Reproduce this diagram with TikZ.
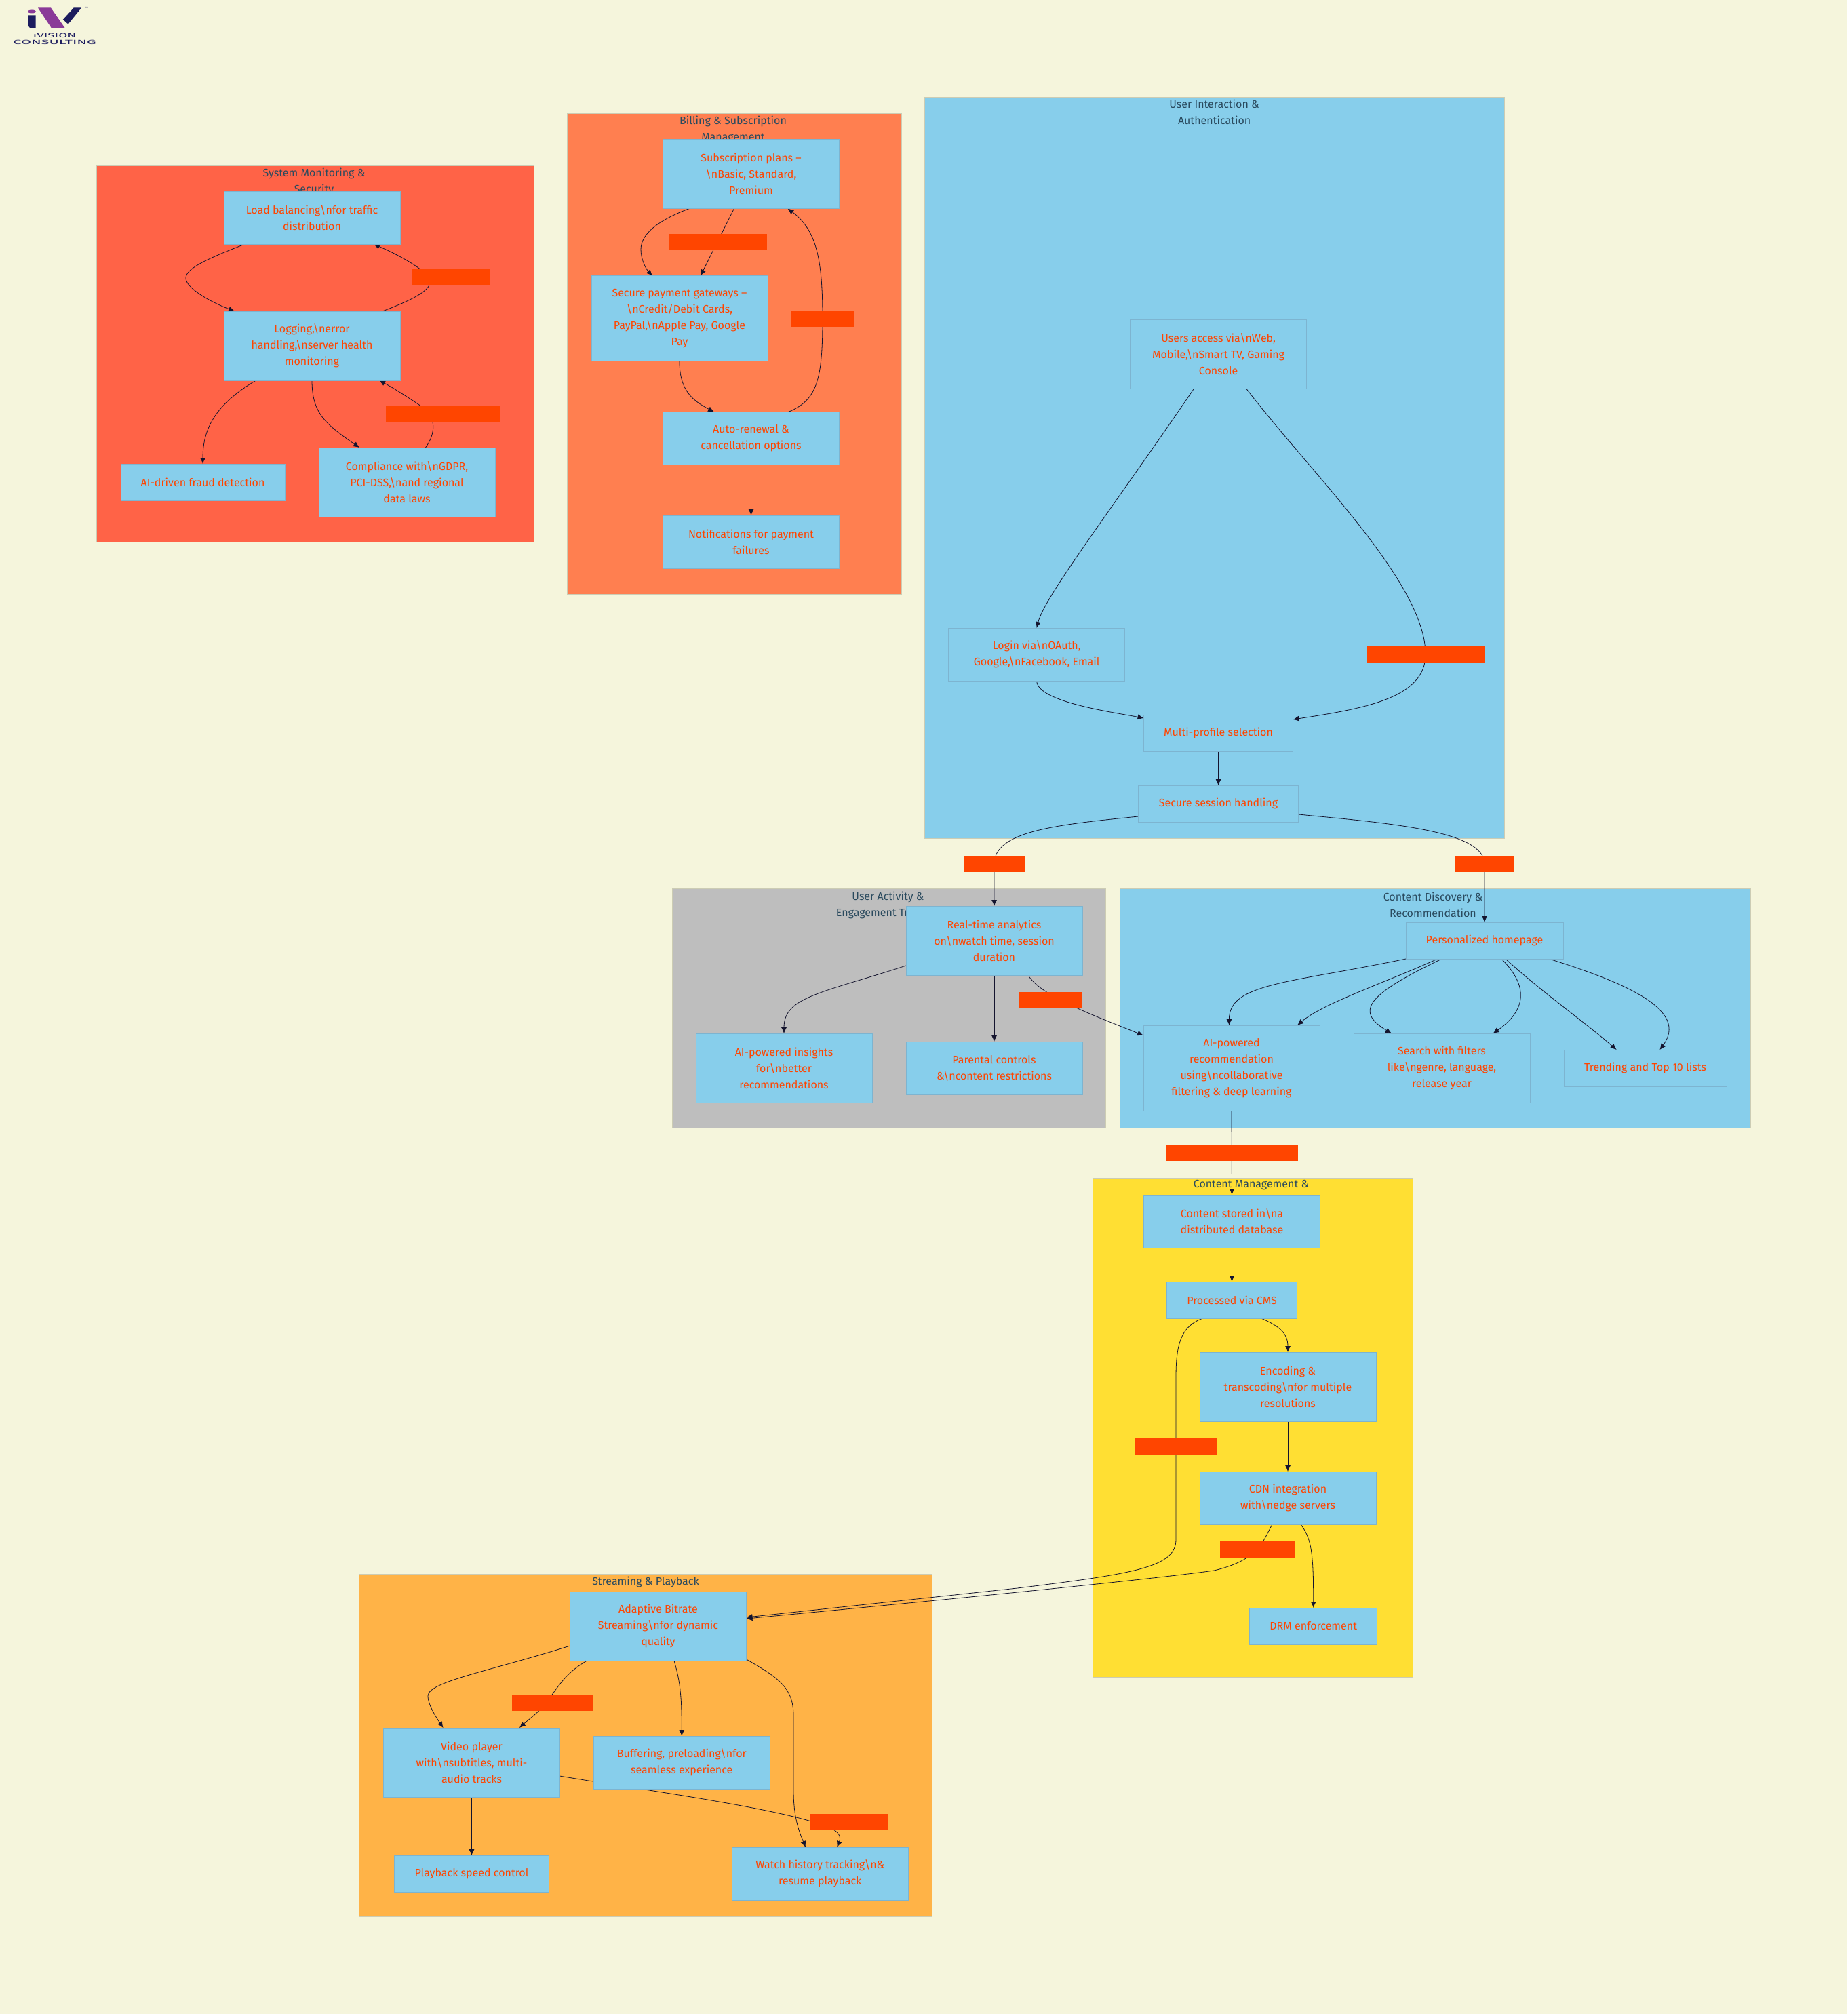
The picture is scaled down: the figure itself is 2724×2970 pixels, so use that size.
\documentclass[tikz,border=0pt]{standalone}
\usepackage{fontspec}
\setmainfont{Fira Sans}
\usetikzlibrary{arrows.meta,backgrounds}
\definecolor{paper}{HTML}{F5F5DC}
\definecolor{sky}{HTML}{87CEEB}
\definecolor{hot}{HTML}{FF4500}
\definecolor{skyline}{HTML}{7DB4D0}
\definecolor{rim}{HTML}{CCCCB4}
\definecolor{ink}{HTML}{2A4A5E}
\definecolor{wire}{HTML}{14142E}
\definecolor{logopurple}{HTML}{8A3A98}
\definecolor{logonavy}{HTML}{1C1C5E}
\newcommand{\nlit}{\textbackslash n}

\begin{document}
\begin{tikzpicture}[x=1pt,y=-1pt,font=\fontsize{16}{24}\selectfont,>={Latex[length=9pt,width=8pt]},
  box/.style={draw=skyline,line width=1pt,fill=sky,text=hot,align=center,inner sep=0pt,outer sep=0pt,minimum width=260,minimum height=78},
  tag/.style={fill=hot,inner sep=0pt,outer sep=0pt,minimum height=24},
  zone/.style={draw=rim,line width=1pt,inner sep=0pt,outer sep=0pt},
  ztitle/.style={text=ink,align=center,inner sep=0pt},
  flow/.style={->,draw=wire,line width=0.8pt}]
  % system monitoring
  \node[box] (load) at (460,321) {Load balancing\nlit{}for traffic\\distribution};
  \node[box,minimum height=102] (logging) at (460,510) {Logging,\nlit{}error\\handling,\nlit{}server health\\monitoring};
  \node[box,minimum width=242,minimum height=54] (fraud) at (299,711) {AI-driven fraud detection};
  \node[box,minimum height=102] (compliance) at (600,711) {Compliance with\nlit{}GDPR,\\PCI-DSS,\nlit{}and regional\\data laws};
  % billing
  \node[box,minimum height=102] (plans) at (1107.5,256.5) {Subscription plans --\\\nlit{}Basic, Standard,\\Premium};
  \node[box,minimum height=126] (gateway) at (1002,469.6) {Secure payment gateways --\\\nlit{}Credit/Debit Cards,\\PayPal,\nlit{}Apple Pay, Google\\Pay};
  \node[box] (renew) at (1107.5,646.5) {Auto-renewal \&\\cancellation options};
  \node[box] (notify) at (1107.5,799) {Notifications for payment\\failures};
  % user interaction
  \node[box,minimum height=102] (users) at (1796.6,522) {Users access via\nlit{}Web,\\Mobile,\nlit{}Smart TV, Gaming\\Console};
  \node[box] (login) at (1528.7,965) {Login via\nlit{}OAuth,\\Google,\nlit{}Facebook, Email};
  \node[box,minimum width=220,minimum height=54] (profile) at (1796.5,1081) {Multi-profile selection};
  \node[box,minimum width=236,minimum height=54] (session) at (1796.5,1185) {Secure session handling};
  % activity
  \node[box,minimum height=102] (realtime) at (1466,1387) {Real-time analytics\\on\nlit{}watch time, session\\duration};
  \node[box,minimum height=102] (insights) at (1156,1575) {AI-powered insights\\for\nlit{}better\\recommendations};
  \node[box] (parental) at (1466,1575) {Parental controls\\\&\nlit{}content restrictions};
  % discovery
  \node[box,minimum width=232,minimum height=54] (home) at (2189,1387) {Personalized homepage};
  \node[box,minimum height=126] (airec) at (1816,1575) {AI-powered\\recommendation\\using\nlit{}collaborative\\filtering \& deep learning};
  \node[box,minimum height=102] (search) at (2126,1575) {Search with filters\\like\nlit{}genre, language,\\release year};
  \node[box,minimum width=240,minimum height=54] (trending) at (2426,1575) {Trending and Top 10 lists};
  % content management
  \node[box] (stored) at (1816.5,1801) {Content stored in\nlit{}a\\distributed database};
  \node[box,minimum width=192,minimum height=54] (cms) at (1816.5,1917) {Processed via CMS};
  \node[box,minimum height=102] (encoding) at (1899,2045) {Encoding \&\\transcoding\nlit{}for multiple\\resolutions};
  \node[box] (cdn) at (1899,2209) {CDN integration\\with\nlit{}edge servers};
  \node[box,minimum width=188,minimum height=54] (drm) at (1936.7,2398) {DRM enforcement};
  % streaming
  \node[box,minimum height=102] (adaptive) at (970.5,2398) {Adaptive Bitrate\\Streaming\nlit{}for dynamic\\quality};
  \node[box,minimum height=102] (video) at (695.5,2599) {Video player\\with\nlit{}subtitles, multi-\\audio tracks};
  \node[box] (buffering) at (1005.3,2599) {Buffering, preloading\nlit{}for\\seamless experience};
  \node[box,minimum width=228,minimum height=54] (playback) at (695.5,2763) {Playback speed control};
  \node[box] (watch) at (1209.3,2763) {Watch history tracking\nlit{}\&\\resume playback};
  % edge label plates
  \foreach \x/\y/\w/\n in {665.3/409.3/116/tagload,653/610.5/168/tagcomp,1058.5/357/144/tagplans,1213/470/92/tagrenew,
    2102/965/174/taguser,1466/1274/90/tagreal,2189/1274/88/taghome,1549/1475/94/tagrec,1816/1700/195/tagstore,
    1734/2133/120/tagcms,1854.4/2285/110/tagcdn,815/2511/120/tagvideo,1252.6/2687/115/tagwatch}{
    \node[tag,minimum width=\w] (\n) at (\x,\y) {};
  }
  % logo
  \fill[logopurple] (47,17) ellipse (6 and 2.5);
  \fill[logonavy] (41.3,22.5) -- (52.5,22.5) -- (52.5,40.8) -- (44,40.8) -- (41.3,38) -- cycle;
  \fill[logopurple] (56,11.5) -- (75,11.5) -- (95.4,40.8) -- (75.5,40.8) -- cycle;
  \fill[logonavy] (108.7,11.5) -- (120,11.5) -- (100.5,35.6) -- (92.9,28.8) -- cycle;
  \node[text=logonavy,inner sep=0pt,font=\fontsize{3}{3}\selectfont] (logotm) at (128,11.5) {TM};
  \node[text=logonavy,inner sep=0pt,font=\fontsize{9}{9}\selectfont] (logoa) at (80.6,52.3) {\scalebox{2.1}[1]{iVISION}};
  \node[text=logonavy,inner sep=0pt,font=\fontsize{9}{9}\selectfont] (logob) at (80.6,62.8) {\scalebox{2.4}[1]{CONSULTING}};

  \begin{scope}[on background layer]
    \fill[paper] (0,0) rectangle (2724,2970);
    \foreach \x/\y/\w/\h/\c/\n in {464.7/521.6/644.6/554.8/FF6347/zonesys,1083/521.8/492.3/708.4/FF7F50/zonebill,
      1790.9/689.9/855/1093.7/87CEEB/zoneuser,1311/1487/639/352.6/BEBEBE/zoneact,2116.3/1487/929.5/352.6/87CEEB/zonefind,
      1847.5/2105.4/472.4/736.7/FFDF33/zonecms,952.2/2574.2/844.7/505.2/FFB347/zoneplay}{
      \definecolor{zonefill}{HTML}{\c}
      \node[zone,fill=zonefill,minimum width=\w,minimum height=\h] (\n) at (\x,\y) {};
    }
    \node[ztitle] (tsys) at (463,268) {System Monitoring \&\\Security};
    \node[ztitle] (tbill) at (1081,191) {Billing \& Subscription\\Management};
    \node[ztitle] (tuser) at (1790.6,165.5) {User Interaction \&\\Authentication};
    \node[ztitle] (tact) at (1309.5,1334.5) {User Activity \&\\Engagement Tracking};
    \node[ztitle] (tfind) at (2113,1334.5) {Content Discovery \&\\Recommendation};
    \node[ztitle] (tcms) at (1845,1748) {Content Management \&};
    \node[ztitle] (tplay) at (952,2332.7) {Streaming \& Playback};

    % system monitoring
    \draw[flow] ([xshift=-99]load.south) .. controls (310,380) and (274,395) .. (274,410) .. controls (274,425) and (310,445) .. ([xshift=-114]logging.north);
    \draw[flow] ([xshift=104]logging.north) .. controls (600,445) and (645,427) .. (632,409) .. controls (622,395) and (590,377) .. ([xshift=91]load.south);
    \draw[flow] ([xshift=-82.5]logging.south) .. controls (320,595) and (299,630) .. (fraud.north);
    \draw[flow] (logging.south) .. controls (460,610) and (480,625) .. ([xshift=-70]compliance.north);
    \draw[flow] ([xshift=27.5]compliance.north) .. controls (642,640) and (645,615) .. (621,599) .. controls (605,588) and (580,572) .. ([xshift=99]logging.south);
    % billing
    \draw[flow] ([xshift=-91]plans.south) .. controls (970,325) and (945,345) .. (945,368) .. controls (945,382) and (952,396) .. ([xshift=-40]gateway.north);
    \draw[flow] ([xshift=-25]plans.south) -- ([xshift=31]gateway.north);
    \draw[flow] (gateway.south) .. controls (1002,575) and (1020,590) .. ([xshift=-54.5]renew.north);
    \draw[flow] ([xshift=55]renew.north) .. controls (1205,590) and (1213,560) .. (tagrenew.center) .. controls (1213,385) and (1205,340) .. ([xshift=54]plans.south);
    \draw[flow] (renew.south) -- (notify.north);
    % user interaction
    \draw[flow] ([xshift=-36]users.south) .. controls (1640,750) and (1540,880) .. (login.north);
    \draw[flow] ([xshift=41]users.south) .. controls (1935,700) and (2102,860) .. (taguser.center) .. controls (2102,1030) and (2010,1045) .. ([yshift=20]profile.east);
    \draw[flow] (login.south) .. controls (1529,1035) and (1640,1050) .. ([yshift=22]profile.west);
    \draw[flow] (profile.south) -- (session.north);
    \draw[flow] ([yshift=-19]session.west) .. controls (1560,1216) and (1466,1225) .. (tagreal.center) -- (realtime.north);
    \draw[flow] ([yshift=-16]session.east) .. controls (2050,1214) and (2189,1225) .. (taghome.center) -- (home.north);
    % activity
    \draw[flow] ([yshift=-37]realtime.west) .. controls (1210,1465) and (1156,1470) .. (insights.north);
    \draw[flow] (realtime.south) -- (parental.north);
    \draw[flow] ([xshift=50]realtime.south) .. controls (1535,1470) and (1620,1500) .. ([yshift=48]airec.west);
    % discovery
    \draw[flow] ([xshift=-116]home.south) .. controls (1900,1450) and (1812,1450) .. ([xshift=-3.5]airec.north);
    \draw[flow] ([xshift=-69]home.south) .. controls (2040,1450) and (1950,1480) .. ([xshift=97]airec.north);
    \draw[flow] ([xshift=-63]home.south) .. controls (2020,1465) and (1995,1490) .. ([xshift=-74]search.north);
    \draw[flow] ([xshift=25]home.south) .. controls (2255,1455) and (2250,1490) .. ([xshift=75.6]search.north);
    \draw[flow] ([xshift=31]home.south) .. controls (2270,1460) and (2340,1510) .. ([xshift=-42.4]trending.north);
    \draw[flow] ([xshift=95]home.south) .. controls (2400,1450) and (2490,1490) .. ([xshift=21.4]trending.north);
    \draw[flow] (airec.south) -- (stored.north);
    % content management
    \draw[flow] (stored.south) -- (cms.north);
    \draw[flow] ([xshift=43]cms.south) .. controls (1885,1955) and (1899,1965) .. (encoding.north);
    \draw[flow] ([xshift=-43]cms.south) .. controls (1745,1955) and (1734,1975) .. (1734,2030) -- (tagcms.center) -- (1734,2270) .. controls (1734,2310) and (1680,2320) .. (1500,2342) -- ([yshift=13]adaptive.east);
    \draw[flow] (encoding.south) -- (cdn.north);
    \draw[flow] ([xshift=19]cdn.south) .. controls (1935,2270) and (1936.7,2295) .. (drm.north);
    \draw[flow] ([xshift=-23]cdn.south) .. controls (1862,2272) and (1858,2300) .. (1790,2316) .. controls (1720,2326) and (1500,2349) .. ([yshift=11]adaptive.east);
    % streaming
    \draw[flow] ([yshift=-29]adaptive.west) .. controls (720,2465) and (631,2480) .. (631,2501) .. controls (631,2515) and (645,2535) .. ([xshift=-42]video.north);
    \draw[flow] ([xshift=-105]adaptive.south) .. controls (832,2468) and (822,2490) .. (805,2511) .. controls (795,2525) and (780,2535) .. ([xshift=70.4]video.north);
    \draw[flow] ([xshift=23.5]adaptive.south) .. controls (1003,2480) and (1005.3,2500) .. (buffering.north);
    \draw[flow] ([yshift=-49]adaptive.east) .. controls (1150,2475) and (1170,2490) .. (1170,2530) -- (1170,2640) .. controls (1170,2680) and (1178,2700) .. ([xshift=-21.4]watch.north);
    \draw[flow] (video.south) -- (playback.north);
    \draw[flow] ([yshift=-20]video.east) .. controls (950,2640) and (1140,2665) .. (1215,2692) .. controls (1240,2700) and (1240,2710) .. ([xshift=25]watch.north);
  \end{scope}
\end{tikzpicture}
\end{document}
